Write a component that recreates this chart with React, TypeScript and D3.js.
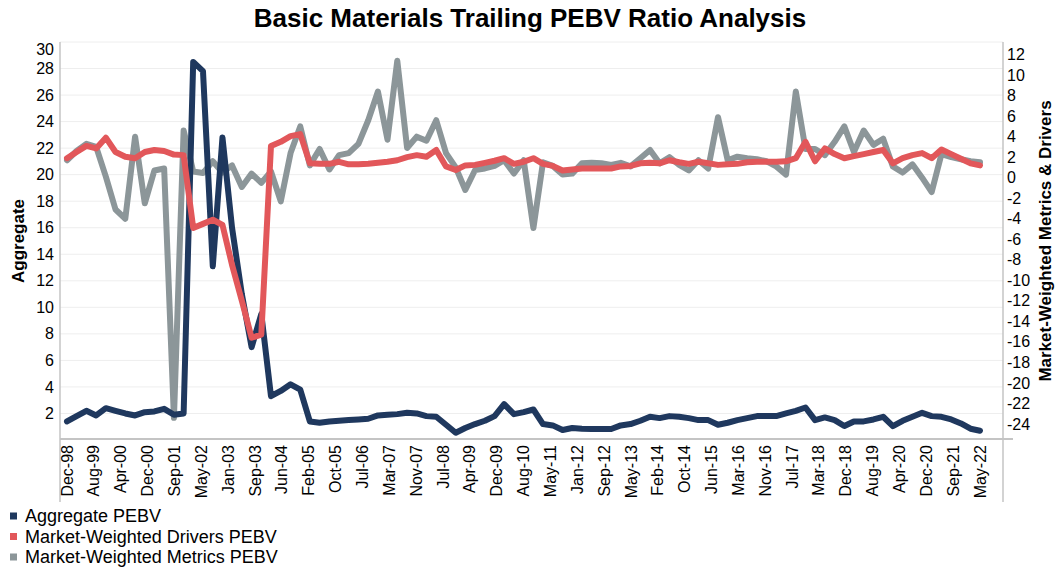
import { useEffect, useRef } from "react";
import * as d3 from "d3";

// quarterly observation dates, last point is the latest reading
const dates = [
  "1998-12-01",
  "1999-03-01", "1999-06-01", "1999-09-01", "1999-12-01",
  "2000-03-01", "2000-06-01", "2000-09-01", "2000-12-01",
  "2001-03-01", "2001-06-01", "2001-09-01", "2001-12-01",
  "2002-03-01", "2002-06-01", "2002-09-01", "2002-12-01",
  "2003-03-01", "2003-06-01", "2003-09-01", "2003-12-01",
  "2004-03-01", "2004-06-01", "2004-09-01", "2004-12-01",
  "2005-03-01", "2005-06-01", "2005-09-01", "2005-12-01",
  "2006-03-01", "2006-06-01", "2006-09-01", "2006-12-01",
  "2007-03-01", "2007-06-01", "2007-09-01", "2007-12-01",
  "2008-03-01", "2008-06-01", "2008-09-01", "2008-12-01",
  "2009-03-01", "2009-06-01", "2009-09-01", "2009-12-01",
  "2010-03-01", "2010-06-01", "2010-09-01", "2010-12-01",
  "2011-03-01", "2011-06-01", "2011-09-01", "2011-12-01",
  "2012-03-01", "2012-06-01", "2012-09-01", "2012-12-01",
  "2013-03-01", "2013-06-01", "2013-09-01", "2013-12-01",
  "2014-03-01", "2014-06-01", "2014-09-01", "2014-12-01",
  "2015-03-01", "2015-06-01", "2015-09-01", "2015-12-01",
  "2016-03-01", "2016-06-01", "2016-09-01", "2016-12-01",
  "2017-03-01", "2017-06-01", "2017-09-01", "2017-12-01",
  "2018-03-01", "2018-06-01", "2018-09-01", "2018-12-01",
  "2019-03-01", "2019-06-01", "2019-09-01", "2019-12-01",
  "2020-03-01", "2020-06-01", "2020-09-01", "2020-12-01",
  "2021-03-01", "2021-06-01", "2021-09-01", "2021-12-01",
  "2022-03-01", "2022-05-29",
];

const aggregatePebv = [
  1.4, 1.8, 2.2, 1.85, 2.4, 2.2, 2.0, 1.85, 2.1, 2.15,
  2.35, 1.9, 2.0, 28.5, 27.8, 13.1, 22.8, 16.0, 11.0, 7.0,
  9.5, 3.3, 3.7, 4.2, 3.8, 1.4, 1.3, 1.4, 1.45, 1.5,
  1.55, 1.6, 1.85, 1.9, 1.95, 2.05, 2.0, 1.8, 1.75, 1.15,
  0.55, 0.9, 1.2, 1.45, 1.8, 2.7, 1.95, 2.1, 2.3, 1.2,
  1.1, 0.75, 0.9, 0.85, 0.83, 0.83, 0.83, 1.1, 1.2, 1.45,
  1.75, 1.65, 1.8, 1.75, 1.65, 1.5, 1.5, 1.15, 1.3, 1.5,
  1.65, 1.8, 1.8, 1.8, 2.0, 2.2, 2.45, 1.5, 1.7, 1.5,
  1.05, 1.4, 1.4, 1.55, 1.75, 1.05, 1.45, 1.75, 2.05, 1.8,
  1.75, 1.55, 1.25, 0.85, 0.7,
];

const driversPebv = [
  1.9, 2.5, 3.1, 2.85, 3.9, 2.5, 2.05, 1.9, 2.5, 2.7,
  2.6, 2.25, 2.2, -4.9, -4.5, -4.1, -4.6, -8.5, -12.0, -15.6,
  -15.3, 3.1, 3.5, 4.05, 4.25, 1.4, 1.35, 1.35, 1.55, 1.3,
  1.3, 1.35, 1.45, 1.55, 1.7, 2.0, 2.2, 2.05, 2.7, 1.1,
  0.75, 1.2, 1.25, 1.45, 1.65, 1.9, 1.35, 1.55, 1.9, 1.35,
  1.15, 0.7, 0.8, 0.9, 0.9, 0.9, 0.9, 1.1, 1.15, 1.4,
  1.45, 1.4, 1.7, 1.5, 1.35, 1.55, 1.4, 1.25, 1.3, 1.35,
  1.5, 1.55, 1.55, 1.55, 1.6, 1.9, 3.5, 1.6, 2.85, 2.3,
  1.9, 2.1, 2.3, 2.5, 2.7, 1.4, 1.9, 2.2, 2.4, 1.9,
  2.75, 2.3, 1.85, 1.4, 1.2,
];

const metricsPebv = [
  1.7, 2.6, 3.3, 3.0, 0.1, -3.1, -4.0, 4.0, -2.5, 0.7,
  0.9, -23.4, 4.6, 0.6, 0.45, 1.6, 0.5, 1.2, -0.9, 0.4,
  -0.5, 0.6, -2.3, 2.4, 5.0, 1.2, 2.8, 0.8, 2.2, 2.4,
  3.3, 5.6, 8.4, 3.7, 11.4, 2.9, 4.0, 3.6, 5.6, 2.4,
  1.0, -1.2, 0.75, 0.9, 1.15, 1.7, 0.4, 1.7, -4.9, 1.5,
  1.15, 0.3, 0.4, 1.4, 1.45, 1.4, 1.25, 1.45, 1.1, 1.9,
  2.7, 1.4, 2.0, 1.25, 0.7, 1.7, 0.9, 5.9, 1.7, 2.05,
  1.9, 1.8, 1.6, 1.1, 0.3, 8.4, 2.8, 2.8, 2.2, 3.5,
  5.0, 2.5, 4.6, 3.2, 3.8, 1.1, 0.5, 1.3, 0.0, -1.4,
  2.3, 2.0, 1.8, 1.6, 1.5,
];

const tickLabels = [
  "Dec-98", "Aug-99", "Apr-00", "Dec-00", "Sep-01", "May-02", "Jan-03",
  "Sep-03", "Jun-04", "Feb-05", "Oct-05", "Jul-06", "Mar-07", "Nov-07",
  "Jul-08", "Apr-09", "Dec-09", "Aug-10", "May-11", "Jan-12", "Sep-12",
  "May-13", "Feb-14", "Oct-14", "Jun-15", "Mar-16", "Nov-16", "Jul-17",
  "Mar-18", "Dec-18", "Aug-19", "Apr-20", "Dec-20", "Sep-21", "May-22",
];

const leftTicks = [2, 4, 6, 8, 10, 12, 14, 16, 18, 20, 22, 24, 26, 28, 30];
const rightTicks = [
  -24, -22, -20, -18, -16, -14, -12, -10, -8, -6, -4, -2, 0, 2, 4, 6, 8, 10, 12,
];

const series = [
  { name: "Aggregate PEBV", color: "#1f385e" },
  { name: "Market-Weighted Drivers PEBV", color: "#e2575a" },
  { name: "Market-Weighted Metrics PEBV", color: "#8c9699" },
];

const FONT = "'Liberation Sans', Arial, Helvetica, sans-serif";

export default function App() {
  const svgRef = useRef<SVGSVGElement>(null);

  useEffect(() => {
    const width = 1055;
    const height = 571;
    const plot = { left: 60, right: 1003, top: 42, bottom: 440 };

    const svg = d3.select(svgRef.current);
    svg.selectAll("*").remove();
    svg.attr("width", width).attr("height", height);

    const parse = d3.timeParse("%Y-%m-%d");
    const when = dates.map((d) => parse(d) as Date);

    const x = d3
      .scaleTime()
      .domain([when[0], when[when.length - 1]])
      .range([67, 980]);
    const xTick = d3.scalePoint<string>().domain(tickLabels).range([67, 980]);
    const yLeft = d3.scaleLinear().domain([0, 30]).range([plot.bottom, plot.top]);
    const yRight = d3
      .scaleLinear()
      .domain([-25.565, 13.226])
      .range([plot.bottom, plot.top]);

    // Title
    svg
      .append("text")
      .attr("x", 530)
      .attr("y", 27)
      .attr("text-anchor", "middle")
      .attr("font-family", FONT)
      .attr("font-weight", "bold")
      .attr("font-size", 26)
      .attr("fill", "#000")
      .text("Basic Materials Trailing PEBV Ratio Analysis");

    // Gridlines
    svg
      .append("g")
      .selectAll("line")
      .data(leftTicks)
      .enter()
      .append("line")
      .attr("x1", plot.left)
      .attr("x2", plot.right)
      .attr("y1", (d) => yLeft(d))
      .attr("y2", (d) => yLeft(d))
      .attr("stroke", "#eeeeee")
      .attr("stroke-width", 1);

    // Axis lines
    const axisColor = "#c4c4c4";
    svg
      .append("line")
      .attr("x1", plot.left)
      .attr("x2", plot.left)
      .attr("y1", plot.top)
      .attr("y2", 502)
      .attr("stroke", axisColor)
      .attr("stroke-width", 1.5);
    svg
      .append("line")
      .attr("x1", plot.right)
      .attr("x2", plot.right)
      .attr("y1", plot.top)
      .attr("y2", 502)
      .attr("stroke", axisColor)
      .attr("stroke-width", 1.5);
    svg
      .append("line")
      .attr("x1", plot.left)
      .attr("x2", 1013)
      .attr("y1", plot.bottom - 1)
      .attr("y2", plot.bottom - 1)
      .attr("stroke", axisColor)
      .attr("stroke-width", 2);

    // Left tick labels
    svg
      .append("g")
      .selectAll("text")
      .data(leftTicks)
      .enter()
      .append("text")
      .attr("x", 54)
      .attr("y", (d) => Math.max(yLeft(d), 49))
      .attr("dy", "0.35em")
      .attr("text-anchor", "end")
      .attr("font-family", FONT)
      .attr("font-size", 16)
      .attr("fill", "#000")
      .text((d) => d);

    // Right tick labels
    svg
      .append("g")
      .selectAll("text")
      .data(rightTicks)
      .enter()
      .append("text")
      .attr("x", 1007)
      .attr("y", (d) => yRight(d))
      .attr("dy", "0.35em")
      .attr("text-anchor", "start")
      .attr("font-family", FONT)
      .attr("font-size", 16)
      .attr("fill", "#000")
      .text((d) => d);

    // X tick labels
    svg
      .append("g")
      .selectAll("text")
      .data(tickLabels)
      .enter()
      .append("text")
      .attr("transform", (d) => `translate(${xTick(d)},445) rotate(-90)`)
      .attr("dy", "0.35em")
      .attr("text-anchor", "end")
      .attr("font-family", FONT)
      .attr("font-size", 16)
      .attr("fill", "#000")
      .text((d) => d);

    // Axis titles
    svg
      .append("text")
      .attr("transform", `translate(18,${(plot.top + plot.bottom) / 2}) rotate(-90)`)
      .attr("dy", "0.35em")
      .attr("text-anchor", "middle")
      .attr("font-family", FONT)
      .attr("font-weight", "bold")
      .attr("font-size", 17)
      .text("Aggregate");
    svg
      .append("text")
      .attr("transform", `translate(1045,${(plot.top + plot.bottom) / 2}) rotate(-90)`)
      .attr("dy", "0.35em")
      .attr("text-anchor", "middle")
      .attr("font-family", FONT)
      .attr("font-weight", "bold")
      .attr("font-size", 17)
      .text("Market-Weighted Metrics & Drivers");

    // Lines
    const lineLeft = d3
      .line<number>()
      .x((_, i) => x(when[i]))
      .y((d) => yLeft(d));
    const lineRight = d3
      .line<number>()
      .x((_, i) => x(when[i]))
      .y((d) => yRight(d));

    const drawn = [
      { values: metricsPebv, gen: lineRight, color: series[2].color },
      { values: aggregatePebv, gen: lineLeft, color: series[0].color },
      { values: driversPebv, gen: lineRight, color: series[1].color },
    ];
    drawn.forEach((s) => {
      svg
        .append("path")
        .datum(s.values)
        .attr("d", s.gen)
        .attr("fill", "none")
        .attr("stroke", s.color)
        .attr("stroke-width", 6)
        .attr("stroke-linejoin", "round")
        .attr("stroke-linecap", "round");
    });

    // Legend
    const legend = svg
      .append("g")
      .selectAll("g")
      .data(series)
      .enter()
      .append("g")
      .attr("transform", (_, i) => `translate(10,${516 + i * 20.5})`);
    legend
      .append("rect")
      .attr("x", 0)
      .attr("y", -3.5)
      .attr("width", 7)
      .attr("height", 7)
      .attr("fill", (d) => d.color);
    legend
      .append("text")
      .attr("x", 15)
      .attr("y", 0)
      .attr("dy", "0.35em")
      .attr("font-family", FONT)
      .attr("font-size", 18)
      .attr("fill", "#000")
      .text((d) => d.name);
  }, []);

  return (
    <svg
      ref={svgRef}
      style={{ position: "absolute", left: 0, top: 0, background: "#fff" }}
    />
  );
}
